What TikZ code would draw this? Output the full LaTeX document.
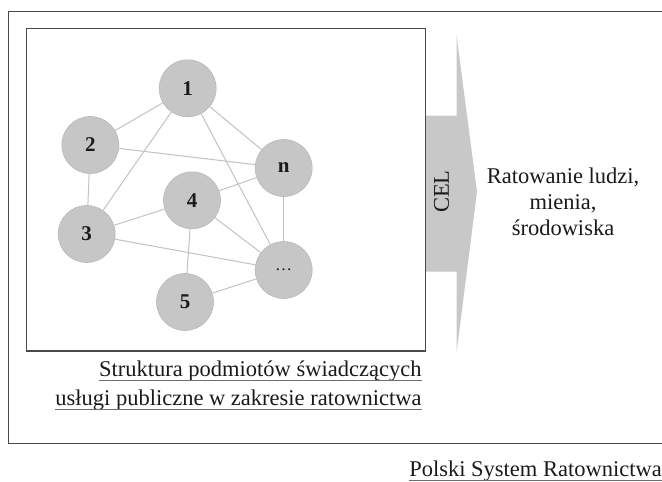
\documentclass[tikz,border=0pt]{standalone}
\usepackage{fontspec}
\setmainfont{Liberation Serif}
\definecolor{framec}{HTML}{4A4A4A}
\definecolor{nodefill}{HTML}{C6C6C6}
\definecolor{nodeedge}{HTML}{B8B8B8}
\definecolor{edgec}{HTML}{C2C2C2}
\definecolor{arrowc}{HTML}{C8C8C8}
\definecolor{txt}{HTML}{1A1A1A}
\begin{document}
\begin{tikzpicture}[x=1pt,y=-1pt,
  entity/.style={circle,minimum size=57pt,inner sep=0pt,fill=nodefill,draw=nodeedge,line width=0.6pt,
    text=txt,font=\fontsize{21}{21}\selectfont\bfseries},
  link/.style={draw=edgec,line width=1pt},
  frame/.style={draw=framec,line width=1.4pt},
  bigtext/.style={text=txt,inner sep=0pt,font=\fontsize{22.5}{26}\selectfont},
  uline/.style={draw=framec!80,line width=0.9pt}]
\useasboundingbox (0,0) rectangle (662,482);
% outer frame (right side beyond the picture)
\draw[frame] (680,11.7) -- (8.3,11.7) -- (8.3,443.3) -- (680,443.3);
% arrow
\fill[arrowc] (425.7,115.7) -- (456.5,115.7) -- (456.5,35) -- (477,191.7) -- (456.5,353) -- (456.5,271.7) -- (425.7,271.7) -- cycle;
\node[bigtext,rotate=90] (cel) at (441.5,191.7) {CEL};
% inner frame
\draw[frame] (26.7,28.3) rectangle (425.7,351);
% nodes
\node[entity] (n1) at (187.7,88.3) {1};
\node[entity] (n2) at (90.3,145) {2};
\node[entity] (nn) at (283.7,168) {n};
\node[entity] (n4) at (192,200.3) {4};
\node[entity] (n3) at (86.7,234) {3};
\node[entity,font=\fontsize{17}{17}\selectfont] (nd) at (283.7,270) {…};
\node[entity] (n5) at (185,302) {5};
% links
\draw[link] (n1) -- (n2);
\draw[link] (n1) -- (n3);
\draw[link] (n1) -- (nn);
\draw[link] (n1) -- (nd);
\draw[link] (n2) -- (nn);
\draw[link] (n2) -- (n3);
\draw[link] (n3) -- (n4);
\draw[link] (n3) -- (nd);
\draw[link] (n4) -- (nn);
\draw[link] (n4) -- (nd);
\draw[link] (n4) -- (n5);
\draw[link] (nn) -- (nd);
\draw[link] (n5) -- (nd);
% captions
\node[bigtext,anchor=base east] (s1) at (421.7,376) {Struktura podmiotów świadczących};
\node[bigtext,anchor=base east] (s2) at (421.7,405) {usługi publiczne w zakresie ratownictwa};
\draw[uline] ([yshift=-4pt]s1.base west) -- ([yshift=-4pt]s1.base east);
\draw[uline] ([yshift=-4pt]s2.base west) -- ([yshift=-4pt]s2.base east);
\node[bigtext,anchor=base east] (psr) at (662,476) {Polski System Ratownictwa};
\draw[uline] ([yshift=-4pt]psr.base west) -- ([yshift=-4pt]psr.base east);
\node[bigtext,align=center,anchor=base] (goal) at (563,235) {Ratowanie ludzi,\\mienia,\\środowiska};
\end{tikzpicture}
\end{document}
